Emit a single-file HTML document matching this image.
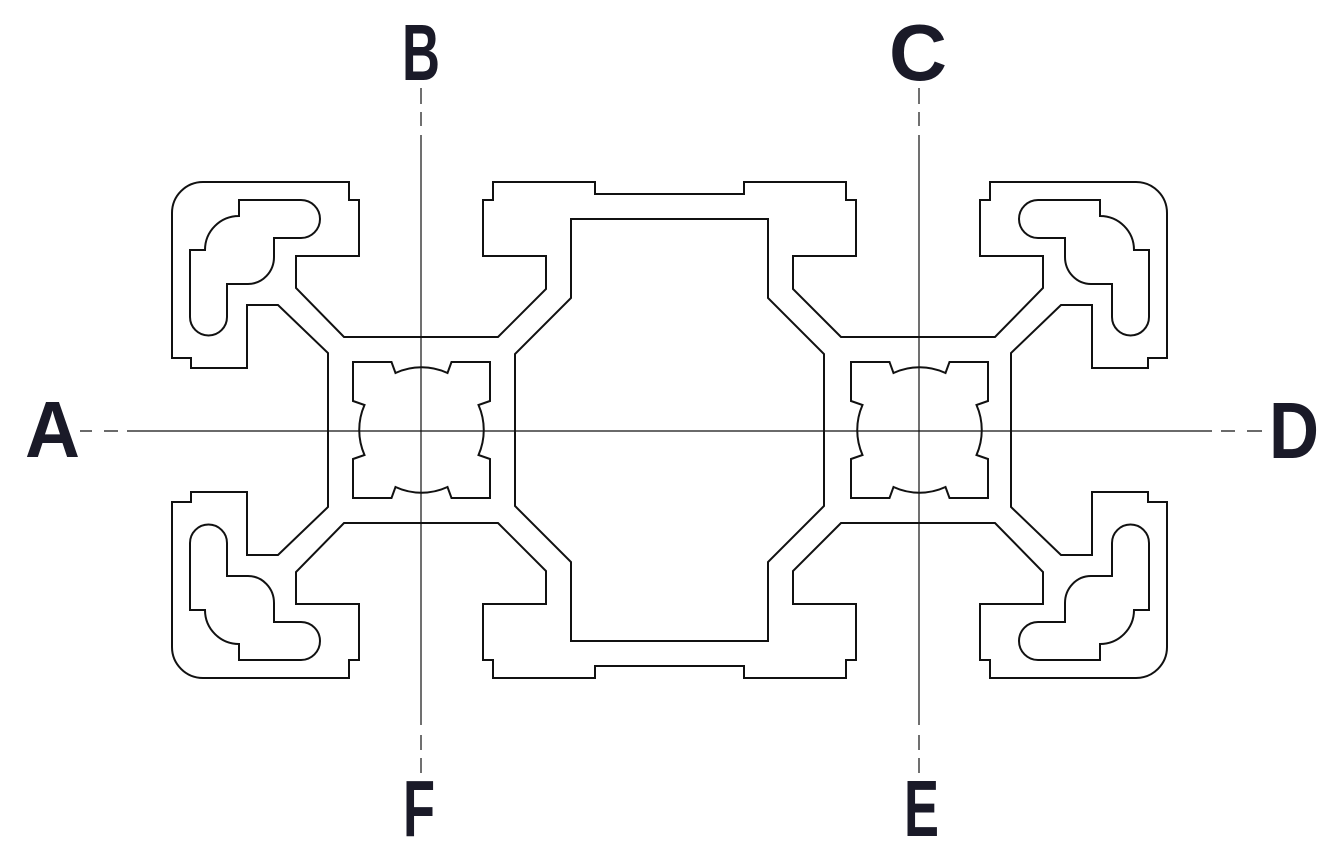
<!DOCTYPE html>
<html><head><meta charset="utf-8"><style>
html,body{margin:0;padding:0;background:#fff;}
svg{display:block;}
</style></head><body>
<svg width="1328" height="861" viewBox="0 0 1328 861" xmlns="http://www.w3.org/2000/svg">
<defs>
<g id="q" fill="none" stroke="#111" stroke-width="2" stroke-linejoin="miter">
<path d="M328,430 L328,353 L278,305 L247,305 L247,368 L191,368 L191,358 L172,358 L172,213 A31,31 0 0 1 203,182 L349,182 L349,200 L359,200 L359,256 L296,256 L296,288 L344,337 L498,337 L546,289 L546,256 L483,256 L483,200 L493,200 L493,182 L595,182 L595,194 L669.5,194"/>
<path d="M515,430 L515,354 L571,298 L571,219 L669.5,219"/>
<path d="M239,200 L301,200 A19,19 0 0 1 301,238 L274,238 L274,257 A26,27 0 0 1 248,284 L227,284 L227,317 A18.5,18.5 0 0 1 190,317 L190,250 L205,250 A34,34 0 0 1 239,216 Z"/>
</g>
<path id="slot" fill="none" stroke="#111" stroke-width="2" d="M-68.5,-68 L-30,-68 L-26,-57 A62,62 0 0 1 26,-57 L30,-68 L68.5,-68 L68.5,-29 L57,-25 A62,62 0 0 1 57,25 L68.5,29 L68.5,68 L30,68 L26,57 A62,62 0 0 1 -26,57 L-30,68 L-68.5,68 L-68.5,29 L-57,25 A62,62 0 0 1 -57,-25 L-68.5,-29 Z"/>
</defs>
<use href="#q"/>
<use href="#q" transform="translate(1339,0) scale(-1,1)"/>
<use href="#q" transform="translate(0,860) scale(1,-1)"/>
<use href="#q" transform="translate(1339,860) scale(-1,-1)"/>
<use href="#slot" transform="translate(421.5,430)"/>
<use href="#slot" transform="translate(919.5,430)"/>
<g stroke="#111" stroke-width="1.2" fill="none">
<path d="M80,431 H92 M104,431 H118 M127,431 H1212 M1221,431 H1235 M1247,431 H1262"/>
<path d="M421,88 V104 M421,112 V126 M421,135 V725 M421,735 V750 M421,758 V773"/>
<path d="M919,88 V104 M919,112 V126 M919,135 V725 M919,735 V750 M919,758 V773"/>
</g>
<g fill="#1a1a28" font-family="'Liberation Sans',sans-serif" font-weight="bold" font-size="80">
<text x="25" y="457" textLength="55" lengthAdjust="spacingAndGlyphs">A</text>
<text x="402" y="80" textLength="38" lengthAdjust="spacingAndGlyphs">B</text>
<text x="889" y="80" textLength="58" lengthAdjust="spacingAndGlyphs">C</text>
<text x="1269" y="458" textLength="50" lengthAdjust="spacingAndGlyphs">D</text>
<text x="403" y="836" textLength="32" lengthAdjust="spacingAndGlyphs">F</text>
<text x="904" y="836" textLength="35" lengthAdjust="spacingAndGlyphs">E</text>
</g>
</svg>
</body></html>
